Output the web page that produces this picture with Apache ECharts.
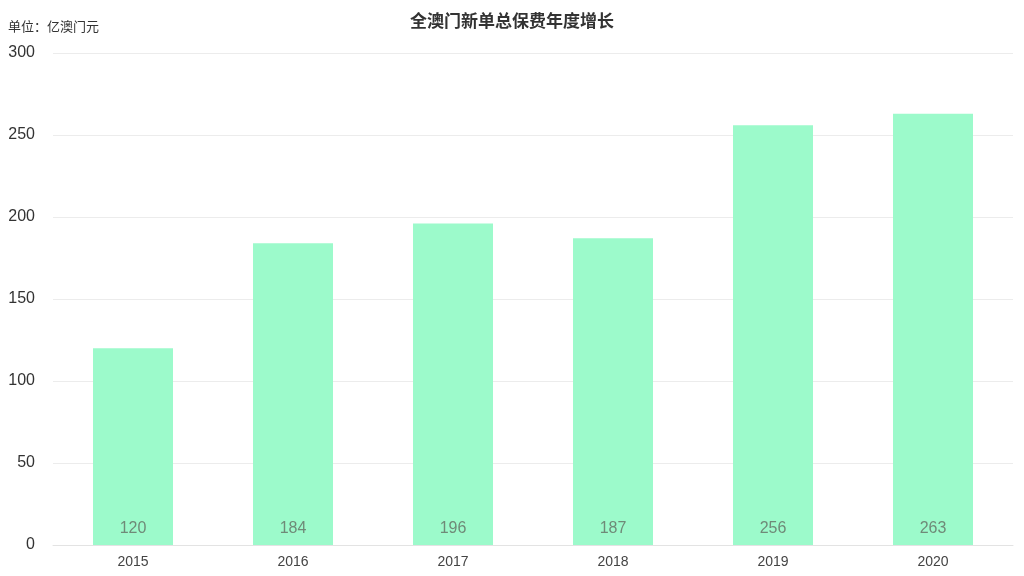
<!DOCTYPE html>
<html><head><meta charset="utf-8">
<script src="https://cdn.jsdelivr.net/npm/echarts@6/dist/echarts.min.js"></script>
<style>html,body{margin:0;padding:0;background:#fff}#c{width:1024px;height:576px}</style>
</head><body><div id="c"></div>
<script>
const categories = ['2015','2016','2017','2018','2019','2020'];
const premiums = [120,184,196,187,256,263];
const yTicks = [0,50,100,150,200,250,300];

const chart = echarts.init(document.getElementById('c'));
chart.setOption({
  animation:false,
  backgroundColor:'#fff',
  textStyle:{fontFamily:'"Noto Sans CJK SC","Liberation Sans",sans-serif'},
  title:[
    {text:'全澳门新单总保费年度增长',left:'center',top:7,textStyle:{fontSize:17,fontWeight:'bold',color:'#333',fontFamily:'"Noto Sans CJK SC",sans-serif'}},
    {text:'单位：亿澳门元',left:3,top:15,textStyle:{fontSize:13,fontWeight:'normal',color:'#333',fontFamily:'"Noto Sans CJK SC",sans-serif'}}
  ],
  grid:{left:53,right:11,top:53,bottom:31},
  xAxis:{type:'category',data:categories,
    axisLine:{lineStyle:{color:'#e3e3e3'}},axisTick:{show:false},
    axisLabel:{color:'#444',fontSize:14,margin:10,fontFamily:'"Liberation Sans",sans-serif'}},
  yAxis:{type:'value',min:yTicks[0],max:yTicks[yTicks.length-1],interval:50,
    axisLine:{show:false},axisTick:{show:false},
    splitLine:{lineStyle:{color:'#ececec'}},
    axisLabel:{color:'#333',fontSize:16,margin:18,fontFamily:'"Liberation Sans",sans-serif'}},
  series:[{type:'bar',data:premiums,barWidth:'50%',
    itemStyle:{color:'#9cfacb'},
    label:{show:true,position:'insideBottom',distance:8,color:'#6f8a78',fontSize:16,fontFamily:'"Liberation Sans",sans-serif'}}]
});
</script></body></html>
